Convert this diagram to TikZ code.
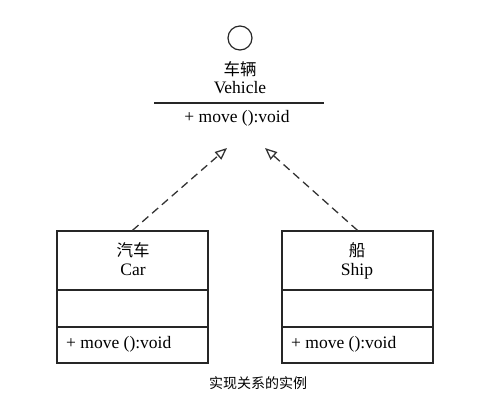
\documentclass[tikz,border=0pt]{standalone}
\usepackage{fontspec}
\setmainfont{Liberation Serif}
\newfontfamily\cjk{Noto Sans CJK SC}
\usetikzlibrary{arrows.meta}
\begin{document}
\begin{tikzpicture}[x=1pt,y=-1pt,
  txt/.style={inner sep=0pt, font=\fontsize{17.5}{19}\selectfont},
  cjktxt/.style={inner sep=0pt, font=\cjk\fontsize{16.5}{18}\selectfont},
  classbox/.style={draw=black!85, line width=1.3pt, minimum width=151pt, minimum height=132pt, inner sep=0pt},
  sepline/.style={draw=black!85, line width=1.3pt},
  realize/.style={draw=black!80, line width=1.3pt, dash pattern=on 8pt off 5pt,
    -{Triangle[open, length=12pt, width=10pt, line width=1.3pt]}}
]
\useasboundingbox (0,0) rectangle (490,405);
% interface
\node[draw=black!85, line width=1.2pt, circle, minimum size=24pt, inner sep=0pt] (iface) at (240,38) {};
\node[cjktxt] (vcn) at (240,69) {车辆};
\node[txt] (ven) at (240,88) {Vehicle};
\coordinate (vl) at (154,103);
\coordinate (vr) at (324,103);
\draw[sepline] (vl) -- (vr);
\node[txt] (vm) at (237,118) {+ move ():void};
\coordinate (tipl) at (227,148);
\coordinate (tipr) at (265,148);
% Car
\node[classbox] (car) at (132.5,297) {};
\coordinate (c1l) at (57,290); \coordinate (c1r) at (208,290);
\coordinate (c2l) at (57,327); \coordinate (c2r) at (208,327);
\draw[sepline] (c1l) -- (c1r);
\draw[sepline] (c2l) -- (c2r);
\node[cjktxt] (carcn) at (133,250) {汽车};
\node[txt] (caren) at (133,270) {Car};
\node[txt, anchor=west] (carm) at (66,344) {+ move ():void};
% Ship
\node[classbox] (ship) at (357.5,297) {};
\coordinate (s1l) at (282,290); \coordinate (s1r) at (433,290);
\coordinate (s2l) at (282,327); \coordinate (s2r) at (433,327);
\draw[sepline] (s1l) -- (s1r);
\draw[sepline] (s2l) -- (s2r);
\node[cjktxt] (shipcn) at (357,250) {船};
\node[txt] (shipen) at (357,271) {Ship};
\node[txt, anchor=west] (shipm) at (291,344) {+ move ():void};
% connectors
\draw[realize] (car.north) -- (tipl);
\draw[realize] (ship.north) -- (tipr);
% caption
\node[inner sep=0pt, font=\cjk\fontsize{14}{16}\selectfont] (cap) at (258,383) {实现关系的实例};
\end{tikzpicture}
\end{document}
